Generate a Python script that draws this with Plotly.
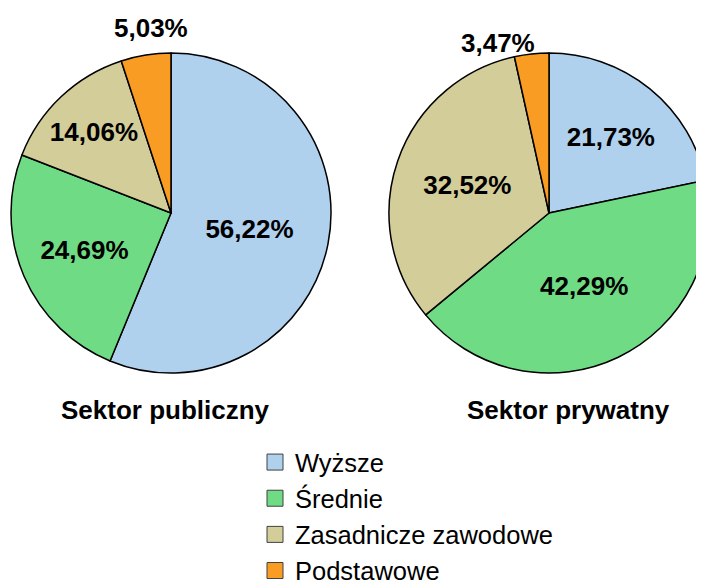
import plotly.graph_objects as go

categories = ["Wyższe", "Średnie", "Zasadnicze zawodowe", "Podstawowe"]
public_values = [56.22, 24.69, 14.06, 5.03]
private_values = [21.73, 42.29, 32.52, 3.47]
sector_titles = ["Sektor publiczny", "Sektor prywatny"]
colors = ["#AFD1EE", "#6FDC85", "#D3CD99", "#F89C24"]
# the smallest slice's label sits above the pie (drawn as an annotation below)
text_positions = ["inside", "inside", "inside", "none"]

W, H = 704, 585
FONT = "Liberation Sans, Arial, sans-serif"
label_font = dict(family=FONT, size=26, color="black")


def fmt(v):
    return f"{v:.2f}%".replace(".", ",")


def pie(values, domain):
    return go.Pie(
        labels=categories,
        values=values,
        sort=False,
        direction="clockwise",
        rotation=0,
        marker=dict(colors=colors, line=dict(color="black", width=1.5)),
        texttemplate="<b>%{value:.2f}%</b>",
        textposition=text_positions,
        insidetextorientation="horizontal",
        textfont=label_font,
        domain=domain,
        showlegend=False,
        hoverinfo="label+value",
    )


fig = go.Figure()
fig.add_trace(pie(public_values, dict(x=[3 / W, 323 / W], y=[220 / H, 540 / H])))
fig.add_trace(pie(private_values, dict(x=[381 / W, 701 / W], y=[220 / H, 540 / H])))

for i, (cat, col) in enumerate(zip(categories, colors)):
    fig.add_trace(go.Scatter(
        x=[None], y=[None], mode="markers", name=cat,
        marker=dict(symbol="square", size=16, color=col, line=dict(color="#404040", width=1)),
        legendgroup=f"g{i}", showlegend=True,
    ))

# outside labels of the smallest slices
for vals, (lx, ly) in zip([public_values, private_values], [(143, 20), (489.5, 35)]):
    fig.add_annotation(
        text=f"<b>{fmt(vals[-1])}</b>", x=lx / W, y=(H - ly) / H, xref="paper", yref="paper",
        showarrow=False, xanchor="center", yanchor="middle", font=label_font,
    )

for title, xc in zip(sector_titles, [157.5 / W, 560.5 / W]):
    fig.add_annotation(
        text=f"<b>{title}</b>", x=xc, y=(H - 402) / H, xref="paper", yref="paper",
        showarrow=False, xanchor="center", yanchor="middle",
        font=dict(family=FONT, size=26, color="black"),
    )

fig.update_layout(
    width=W, height=H,
    margin=dict(l=0, r=0, t=0, b=0, autoexpand=False),
    paper_bgcolor="white", plot_bgcolor="white",
    separators=", ",
    xaxis=dict(visible=False), yaxis=dict(visible=False),
    legend=dict(
        x=247 / W, xanchor="left", y=(H - 431) / H, yanchor="top",
        font=dict(family=FONT, size=25.5, color="black"),
        tracegroupgap=0, bgcolor="rgba(0,0,0,0)",
    ),
)

fig.write_html("out.html")
